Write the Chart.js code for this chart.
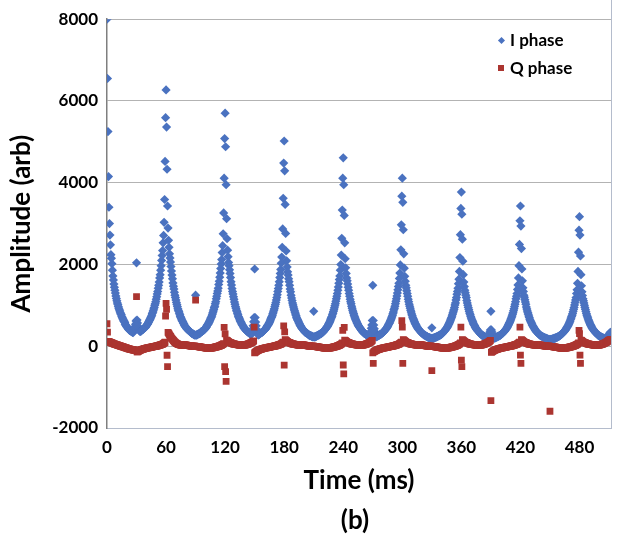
<!DOCTYPE html>
<html>
<head>
<meta charset="utf-8">
<script src="https://cdn.jsdelivr.net/npm/chart.js@4.4.1/dist/chart.umd.min.js"></script>
<style>
  body { margin: 0; background: #fff; }
  #wrap { position: relative; width: 619px; height: 538px; font-family: Lato, "Open Sans", sans-serif; font-weight: bold; }
  #chart { position: absolute; left: 0; top: 0; }
  .legend-row { position: absolute; font-size: 17px; color: #000; white-space: nowrap; line-height: 20px; }
  .mk { display: inline-block; vertical-align: middle; margin-right: 6px; }
  .mk-i { width: 5px; height: 5px; background: #4a72c0; transform: rotate(45deg); margin-top: -3px; }
  .mk-q { width: 6px; height: 6px; background: #ab3530; margin-top: -3px; }
  #panel { position: absolute; left: 0; width: 710px; top: 503px; text-align: center; font-size: 26px; color: #000; }
</style>
</head>
<body>
<div id="wrap">
  <canvas id="chart" width="619" height="538"></canvas>
  <div class="legend-row" style="left:499px; top:30px;"><span class="mk mk-i"></span>I phase</div>
  <div class="legend-row" style="left:498px; top:58px;"><span class="mk mk-q"></span>Q phase</div>
  <div id="panel">(b)</div>
</div>
<script>
// one sample every 0.5 ms, t = 0 ... 512 ms
const sampleStepMs = 0.5;
const xTicks = [0, 60, 120, 180, 240, 300, 360, 420, 480];
const yTicks = [-2000, 0, 2000, 4000, 6000, 8000];

const iPhase = [
  // 0 - 29.5
  8000,6550,5250,4150,3400,3000,2720,2480,2240,2150,2020,1860,1720,1620,1520,1440,1370,1300,1230,1170,1110,1060,1020,970,930,890,860,820,790,770,730,700,670,650,620,610,580,540,520,500,480,465,450,430,420,400,390,380,380,360,360,350,340,330,360,390,430,480,540,620,
  // 30 - 59.5
  2040,640,570,490,440,400,380,360,360,370,380,400,410,410,420,440,450,460,460,480,500,520,540,550,580,600,630,650,670,700,730,760,800,830,870,910,950,1000,1040,1090,1150,1210,1280,1340,1420,1490,1570,1670,1750,1860,1970,2100,2220,2340,2530,2710,3030,3590,4520,5590,
  // 60 - 89.5
  6270,5360,4330,3430,2890,2590,2420,2260,2160,2060,1950,1840,1740,1650,1550,1470,1400,1320,1250,1190,1130,1070,1020,970,920,880,850,810,770,730,700,670,640,620,600,570,550,520,500,480,470,450,430,420,410,400,380,380,370,360,340,330,320,310,310,300,290,280,280,270,
  // 90 - 119.5
  1250,270,280,280,290,300,300,310,310,320,330,350,360,360,370,380,390,400,420,420,440,460,470,500,520,540,550,580,600,630,660,690,710,740,780,820,860,900,950,980,1040,1090,1160,1220,1290,1350,1420,1510,1590,1690,1790,1900,2010,2120,2290,2460,2750,3260,4110,5080,
  // 120 - 149.5
  5700,4880,3950,3120,2630,2350,2190,2050,1970,1870,1780,1680,1580,1500,1410,1340,1280,1210,1150,1080,1030,970,930,880,850,810,770,730,700,670,640,610,590,570,540,520,500,480,450,440,430,410,400,380,370,360,350,340,340,330,310,300,290,290,310,350,420,500,600,700,
  // 150 - 179.5
  1890,700,590,500,410,350,320,280,280,290,300,310,320,330,330,340,350,360,370,390,400,410,420,440,460,480,500,520,530,560,580,610,640,670,700,720,760,800,840,880,920,970,1020,1070,1130,1190,1260,1340,1410,1490,1580,1680,1780,1880,2030,2180,2420,2870,3620,4480,
  // 180 - 209.5
  5020,4290,3470,2760,2330,2090,1940,1820,1740,1650,1580,1490,1400,1330,1250,1180,1120,1060,1010,960,910,870,830,790,750,710,680,650,630,600,570,550,520,500,480,460,440,430,410,400,380,370,350,340,330,330,320,310,300,290,280,270,260,260,260,250,240,240,230,230,
  // 210 - 239.5
  855,230,230,230,240,240,250,260,260,270,280,280,290,300,310,310,320,330,340,350,360,380,390,410,420,440,460,470,490,510,540,560,580,610,640,670,700,730,770,810,850,890,940,990,1040,1100,1160,1220,1290,1370,1450,1540,1630,1720,1860,2000,2230,2640,3330,4110,
  // 240 - 269.5
  4610,3950,3200,2530,2140,1920,1780,1670,1600,1520,1440,1370,1290,1220,1150,1090,1040,980,930,880,840,800,760,720,690,660,630,600,570,550,520,500,480,460,450,430,410,390,380,360,350,340,320,320,310,300,290,280,280,270,260,250,240,240,270,310,360,440,520,630,
  // 270 - 299.5
  1490,630,520,430,360,300,270,230,240,240,250,260,260,270,280,290,290,300,310,320,330,340,350,370,380,400,410,430,440,460,480,500,530,550,570,600,630,660,690,720,760,800,840,890,930,980,1040,1100,1160,1230,1300,1380,1460,1540,1660,1790,1990,2360,2970,3670,
  // 300 - 329.5
  4110,3520,2850,2260,1910,1710,1590,1490,1430,1360,1290,1220,1150,1090,1030,980,930,880,840,790,750,710,680,650,620,590,560,540,520,490,470,450,430,420,400,390,370,360,340,330,320,310,300,290,280,270,270,260,250,240,240,230,220,220,210,210,200,200,190,190,
  // 330 - 359.5
  450,190,190,200,200,210,210,220,220,230,230,240,240,250,260,260,270,280,280,290,300,310,320,340,350,370,380,390,410,430,440,460,480,500,530,550,580,610,640,670,700,740,780,820,860,900,950,1010,1060,1130,1190,1270,1340,1420,1530,1640,1830,2170,2730,3370,
  // 360 - 389.5
  3770,3230,2620,2080,1750,1570,1460,1370,1310,1250,1190,1120,1060,1000,950,900,850,810,770,730,690,660,630,600,570,540,520,500,470,450,430,420,400,380,370,360,340,330,310,300,290,280,270,260,260,250,240,240,230,220,220,210,200,200,220,230,270,300,350,400,
  // 390 - 419.5
  855,400,350,300,260,230,210,200,200,210,210,220,230,230,240,240,250,260,260,270,280,290,300,310,320,340,350,360,370,390,410,420,440,460,480,510,530,560,580,610,640,670,710,740,780,820,870,920,970,1030,1090,1160,1220,1290,1390,1500,1670,1970,2490,3070,
  // 420 - 449.5
  3430,2940,2390,1890,1600,1430,1340,1250,1200,1140,1080,1030,960,910,860,820,780,740,700,660,630,600,580,550,520,500,480,460,440,420,400,380,370,350,340,330,320,300,290,280,270,260,250,250,240,230,230,220,210,210,200,200,190,190,180,180,170,170,170,160,
  // 450 - 479.5
  160,160,170,170,170,180,180,180,190,190,200,200,210,210,220,220,230,240,240,250,260,270,280,290,300,310,320,340,350,360,380,390,410,430,450,470,490,510,540,560,590,620,660,690,730,760,800,850,900,950,1010,1070,1130,1190,1290,1380,1540,1830,2300,2840,
  // 480 - 512
  3170,2720,2210,1750,1480,1330,1240,1160,1110,1060,1000,950,900,850,800,760,720,690,650,620,590,560,530,510,490,460,440,420,410,390,370,360,340,330,320,310,300,280,270,260,260,250,240,230,230,220,210,210,200,200,190,190,180,180,170,170,190,200,220,250,280,310,330,340,340
];

const qPhase = [
  // 0 - 29.5
  550,345,120,115,110,105,100,95,90,85,80,75,70,65,60,55,50,46,42,38,34,30,26,22,18,14,10,6,2,-2,-6,-10,-14,-18,-22,-26,-30,-34,-38,-42,-46,-50,-54,-58,-62,-66,-70,-73,-76,-79,-82,-85,-88,-90,-92,-94,-96,-98,-100,-100,
  // 30 - 59.5
  1215,-137,-140,-130,-122,-115,-108,-102,-96,-90,-85,-80,-76,-72,-68,-64,-60,-57,-54,-51,-48,-45,-42,-40,-38,-35,-32,-30,-28,-25,-22,-20,-18,-15,-12,-10,-8,-5,-2,0,3,6,9,12,15,18,22,26,30,34,38,43,48,54,60,68,76,86,98,740,
  // 60 - 89.5
  1050,900,-220,-500,340,320,300,280,260,240,220,200,185,170,155,140,125,110,100,90,80,72,65,58,52,46,42,38,35,32,30,30,30,30,30,30,30,30,30,30,28,26,24,22,20,18,16,14,12,10,8,6,5,4,3,2,1,0,0,0,
  // 90 - 119.5
  1130,-2,-4,-6,-8,-10,-12,-14,-16,-18,-20,-22,-24,-26,-28,-30,-32,-34,-36,-38,-40,-42,-44,-45,-46,-47,-48,-48,-48,-47,-46,-45,-43,-41,-39,-37,-34,-31,-28,-25,-22,-19,-16,-13,-10,-6,-2,2,6,10,14,19,24,30,37,45,54,65,460,-500,
  // 120 - 149.5
  300,-620,-860,150,140,130,120,110,100,95,90,85,80,75,70,65,60,58,55,52,50,48,45,43,40,38,36,34,32,30,30,30,30,30,30,30,30,30,30,30,30,32,35,38,42,46,50,55,60,65,70,76,82,88,95,102,110,120,130,467,
  // 150 - 179.5
  -160,-150,-140,-130,-122,-115,-108,-102,-96,-90,-85,-80,-76,-72,-68,-64,-60,-57,-54,-51,-48,-45,-42,-40,-38,-35,-32,-30,-28,-25,-22,-20,-18,-15,-12,-10,-8,-5,-2,0,3,6,9,12,15,18,22,26,30,34,38,43,48,54,60,68,76,86,98,500,
  // 180 - 209.5
  -460,350,160,150,140,130,120,110,100,95,90,85,80,75,70,65,60,58,55,52,50,48,45,43,40,38,36,34,32,30,30,30,30,30,30,30,30,30,30,30,28,26,24,22,20,18,16,14,12,10,8,6,5,4,3,2,1,0,0,0,
  // 210 - 239.5
  0,-2,-4,-6,-8,-10,-12,-14,-16,-18,-20,-22,-24,-26,-28,-30,-32,-34,-36,-38,-40,-42,-44,-45,-46,-47,-48,-48,-48,-47,-46,-45,-43,-41,-39,-37,-34,-31,-28,-25,-22,-19,-16,-13,-10,-6,-2,2,6,10,14,19,24,30,37,45,54,65,80,387,
  // 240 - 269.5
  -459,-677,460,150,140,130,120,110,100,95,90,85,80,75,70,65,60,58,55,52,50,48,45,43,40,38,36,34,32,30,30,30,30,30,30,30,30,30,30,30,30,32,35,38,42,46,50,55,60,65,70,76,82,88,95,102,110,120,130,145,
  // 270 - 299.5
  -160,-420,-140,-130,-122,-115,-108,-102,-96,-90,-85,-80,-76,-72,-68,-64,-60,-57,-54,-51,-48,-45,-42,-40,-38,-35,-32,-30,-28,-25,-22,-20,-18,-15,-12,-10,-8,-5,-2,0,3,6,9,12,15,18,22,26,30,34,38,43,48,54,60,68,76,86,98,628,
  // 300 - 329.5
  467,-420,160,150,140,130,120,110,100,95,90,85,80,75,70,65,60,58,55,52,50,48,45,43,40,38,36,34,32,30,30,30,30,30,30,30,30,30,30,30,28,26,24,22,20,18,16,14,12,10,8,6,5,4,3,2,1,0,0,0,
  // 330 - 359.5
  -597,-2,-4,-6,-8,-10,-12,-14,-16,-18,-20,-22,-24,-26,-28,-30,-32,-34,-36,-38,-40,-42,-44,-45,-46,-47,-48,-48,-48,-47,-46,-45,-43,-41,-39,-37,-34,-31,-28,-25,-22,-19,-16,-13,-10,-6,-2,2,6,10,14,19,24,30,37,45,54,65,80,467,
  // 360 - 389.5
  -338,-500,160,150,140,130,120,110,100,95,90,85,80,75,70,65,60,58,55,52,50,48,45,43,40,38,36,34,32,30,30,30,30,30,30,30,30,30,30,30,30,32,35,38,42,46,50,55,60,65,70,76,82,88,95,102,110,120,130,145,
  // 390 - 419.5
  -1330,-150,-140,-130,-122,-115,-108,-102,-96,-90,-85,-80,-76,-72,-68,-64,-60,-57,-54,-51,-48,-45,-42,-40,-38,-35,-32,-30,-28,-25,-22,-20,-18,-15,-12,-10,-8,-5,-2,0,3,6,9,12,15,18,22,26,30,34,38,43,48,54,60,68,76,86,98,467,
  // 420 - 449.5
  -218,-420,160,150,140,130,120,110,100,95,90,85,80,75,70,65,60,58,55,52,50,48,45,43,40,38,36,34,32,30,30,30,30,30,30,30,30,30,30,30,28,26,24,22,20,18,16,14,12,10,8,6,5,4,3,2,1,0,0,0,
  // 450 - 479.5
  -1590,-2,-4,-6,-8,-10,-12,-14,-16,-18,-20,-22,-24,-26,-28,-30,-32,-34,-36,-38,-40,-42,-44,-45,-46,-47,-48,-48,-48,-47,-46,-45,-43,-41,-39,-37,-34,-31,-28,-25,-22,-19,-16,-13,-10,-6,-2,2,6,10,14,19,24,30,37,45,54,65,80,387,
  // 480 - 512
  306,-218,-420,150,140,130,120,110,100,95,90,85,80,75,70,65,60,58,55,52,50,48,45,43,40,38,36,34,32,30,30,30,30,30,30,30,30,30,30,30,30,32,35,38,42,46,50,55,60,65,70,76,82,88,95,102,110,120,130,145,150,150,155,160,160
];

const timeMs = iPhase.map((_, i) => i * sampleStepMs);
const toPoints = arr => arr.map((v, i) => ({ x: timeMs[i], y: v }));

const tickFont = { family: 'Lato', weight: 'bold', size: 17 };
const titleFont = { family: 'Lato', weight: 'bold', size: 26 };

// right edge frame line of the plot
const frameLine = {
  id: 'frameLine',
  afterDraw(chart) {
    const { ctx, chartArea } = chart;
    ctx.save();
    ctx.strokeStyle = '#b4bccc';
    ctx.lineWidth = 1;
    ctx.beginPath();
    ctx.moveTo(chartArea.right + 0.5, 0);
    ctx.lineTo(chartArea.right + 0.5, chartArea.bottom);
    ctx.stroke();
    ctx.restore();
  }
};

new Chart(document.getElementById('chart'), {
  type: 'scatter',
  data: {
    datasets: [
      { label: 'Q phase', data: toPoints(qPhase), pointStyle: 'rect', pointRadius: 4.8, pointBorderWidth: 0, backgroundColor: '#ab3530', borderColor: '#ab3530', order: 1 },
      { label: 'I phase', data: toPoints(iPhase), pointStyle: 'rectRot', pointRadius: 4.6, pointBorderWidth: 0, backgroundColor: '#4a72c0', borderColor: '#4a72c0', order: 2 }
    ]
  },
  options: {
    responsive: false,
    animation: false,
    devicePixelRatio: 1,
    layout: { padding: { top: 15, right: 8, left: 0, bottom: 0 } },
    plugins: { legend: { display: false }, tooltip: { enabled: false } },
    scales: {
      x: {
        type: 'linear', min: 0, max: 512,
        afterFit(scale) { scale.height = 110; },
        afterBuildTicks(scale) { scale.ticks = xTicks.map(v => ({ value: v })); },
        grid: { display: false, drawTicks: false },
        border: { color: '#b4bccc', width: 1 },
        ticks: { font: tickFont, color: '#000', padding: 9, maxRotation: 0, callback: v => String(v) },
        title: { display: true, text: 'Time (ms)', font: titleFont, color: '#000', padding: { top: 0, bottom: 42 } }
      },
      y: {
        type: 'linear', min: -2000, max: 8000,
        afterFit(scale) { scale.width = 107; },
        afterBuildTicks(scale) { scale.ticks = yTicks.map(v => ({ value: v })); },
        grid: { color: '#b3b3b3', lineWidth: 1, drawTicks: false },
        border: { color: '#7f7f7f', width: 1.5 },
        ticks: { font: tickFont, color: '#000', padding: 9, callback: v => String(v) },
        title: { display: true, text: 'Amplitude (arb)', font: titleFont, color: '#000', padding: { top: 6, bottom: 0 } }
      }
    }
  },
  plugins: [frameLine]
});
</script>
</body>
</html>
